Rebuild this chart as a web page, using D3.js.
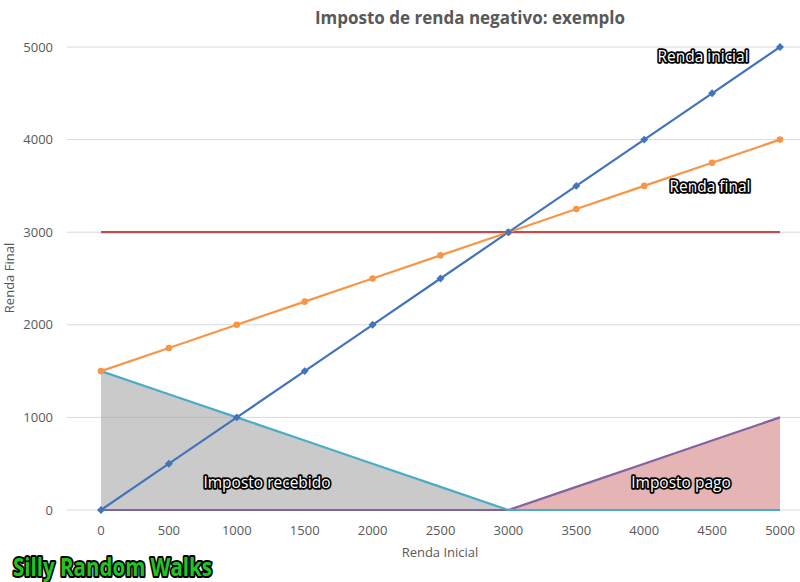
<!DOCTYPE html>
<html>
<head>
<meta charset="utf-8">
<script src="https://cdn.jsdelivr.net/npm/d3@7"></script>
<style>
  body { margin: 0; background: #fff; }
  svg { display: block; }
  text { font-family: "Open Sans", "Noto Sans", sans-serif; }
</style>
</head>
<body>
<svg id="chart" width="800" height="582"></svg>
<script>
// Dados do gráfico
const rendaCategorias = [0, 500, 1000, 1500, 2000, 2500, 3000, 3500, 4000, 4500, 5000];
const rendaInicial = [0, 500, 1000, 1500, 2000, 2500, 3000, 3500, 4000, 4500, 5000];
const rendaFinal = [1500, 1750, 2000, 2250, 2500, 2750, 3000, 3250, 3500, 3750, 4000];
const linhaCorte = [3000, 3000, 3000, 3000, 3000, 3000, 3000, 3000, 3000, 3000, 3000];
const impostoRecebido = [1500, 1250, 1000, 750, 500, 250, 0, 0, 0, 0, 0];
const impostoPago = [0, 0, 0, 0, 0, 0, 0, 250, 500, 750, 1000];
const yTicks = [0, 1000, 2000, 3000, 4000, 5000];

const svg = d3.select("#chart");

// Escalas
const xScale = d3.scalePoint().domain(rendaCategorias).range([101, 780]);
const yScale = d3.scaleLinear().domain([0, 5000]).range([510, 47]);

const zip = (arr) => rendaCategorias.map((c, i) => ({ c, v: arr[i] }));

// Grade horizontal
svg.append("g")
  .selectAll("line")
  .data(yTicks)
  .join("line")
  .attr("x1", 67)
  .attr("x2", 800)
  .attr("y1", (d) => yScale(d))
  .attr("y2", (d) => yScale(d))
  .attr("stroke", "#d9d9d9")
  .attr("stroke-width", 1);

// Áreas
const area = d3.area()
  .x((d) => xScale(d.c))
  .y0(yScale(0))
  .y1((d) => yScale(d.v));

svg.append("path")
  .datum(zip(impostoRecebido).filter((d) => d.c <= 3000))
  .attr("d", area)
  .attr("fill", "#a6a6a6")
  .attr("opacity", 0.6);

svg.append("path")
  .datum(zip(impostoPago).filter((d) => d.c >= 3000))
  .attr("d", area)
  .attr("fill", "#d99594")
  .attr("opacity", 0.7);

// Linhas
const line = d3.line()
  .x((d) => xScale(d.c))
  .y((d) => yScale(d.v));

const series = [
  { values: impostoPago, color: "#8064a2" },
  { values: impostoRecebido, color: "#4bacc6" },
  { values: linhaCorte, color: "#c0504d" },
  { values: rendaFinal, color: "#f79646" },
  { values: rendaInicial, color: "#4174ba" }
];

series.forEach((s) => {
  svg.append("path")
    .datum(zip(s.values))
    .attr("d", line)
    .attr("fill", "none")
    .attr("stroke", s.color)
    .attr("stroke-width", 2.2)
    .attr("stroke-linejoin", "round");
});

// Marcadores
svg.append("g")
  .selectAll("circle")
  .data(zip(rendaFinal))
  .join("circle")
  .attr("cx", (d) => xScale(d.c))
  .attr("cy", (d) => yScale(d.v))
  .attr("r", 3.3)
  .attr("fill", "#f79646");

svg.append("g")
  .selectAll("path")
  .data(zip(rendaInicial))
  .join("path")
  .attr("d", d3.symbol(d3.symbolDiamond2, 40))
  .attr("transform", (d) => `translate(${xScale(d.c)},${yScale(d.v)})`)
  .attr("fill", "#4174ba");

// Eixos (rótulos)
svg.append("g")
  .selectAll("text")
  .data(yTicks)
  .join("text")
  .attr("x", 53)
  .attr("y", (d) => yScale(d))
  .attr("dy", "0.35em")
  .attr("text-anchor", "end")
  .attr("font-size", 13)
  .attr("fill", "#595959")
  .text((d) => d);

svg.append("g")
  .selectAll("text")
  .data(rendaCategorias)
  .join("text")
  .attr("x", (d) => xScale(d))
  .attr("y", 535)
  .attr("text-anchor", "middle")
  .attr("font-size", 13)
  .attr("fill", "#595959")
  .text((d) => d);

svg.append("text")
  .attr("x", 440)
  .attr("y", 557)
  .attr("text-anchor", "middle")
  .attr("font-size", 13)
  .attr("fill", "#595959")
  .text("Renda Inicial");

svg.append("text")
  .attr("transform", "translate(14,278) rotate(-90)")
  .attr("text-anchor", "middle")
  .attr("font-size", 13)
  .attr("fill", "#595959")
  .text("Renda Final");

// Título
svg.append("text")
  .attr("x", 470)
  .attr("y", 24)
  .attr("text-anchor", "middle")
  .attr("font-size", 17)
  .attr("font-weight", "bold")
  .attr("fill", "#595959")
  .text("Imposto de renda negativo: exemplo");

// Anotações
const anotacoes = [
  { texto: "Renda inicial", x: 703, y: 62 },
  { texto: "Renda final", x: 710, y: 192 },
  { texto: "Imposto recebido", x: 267, y: 488 },
  { texto: "Imposto pago", x: 681, y: 488 }
];

svg.append("g")
  .selectAll("text")
  .data(anotacoes)
  .join("text")
  .attr("x", (d) => d.x)
  .attr("y", (d) => d.y)
  .attr("text-anchor", "middle")
  .attr("font-family", "'DejaVu Sans Condensed', sans-serif")
  .attr("font-size", 15.5)
  .attr("fill", "#fff")
  .attr("stroke", "#000")
  .attr("stroke-width", 3.5)
  .attr("stroke-linejoin", "round")
  .attr("paint-order", "stroke")
  .text((d) => d.texto);

// Marca d'água
svg.append("text")
  .attr("x", 13)
  .attr("y", 576)
  .attr("font-family", "'DejaVu Sans Condensed', sans-serif")
  .attr("font-weight", "bold")
  .attr("font-size", 25)
  .attr("textLength", 199)
  .attr("lengthAdjust", "spacingAndGlyphs")
  .attr("fill", "#22c322")
  .attr("stroke", "#000")
  .attr("stroke-width", 4)
  .attr("stroke-linejoin", "round")
  .attr("paint-order", "stroke")
  .text("Silly Random Walks");
</script>
</body>
</html>
